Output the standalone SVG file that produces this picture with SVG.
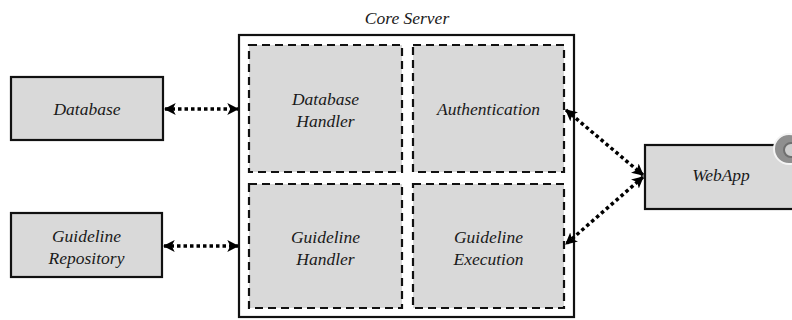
<svg xmlns="http://www.w3.org/2000/svg" width="792" height="320" viewBox="0 0 792 320">
  <style>
    .lbl { font-family: "Liberation Serif", "Times New Roman", serif; font-style: italic; font-size: 17.5px; fill: #1a1a1a; text-anchor: middle; }
    .ext { fill: #d9d9d9; stroke: #111; stroke-width: 2.2; }
    .mod { fill: #d9d9d9; stroke: #111; stroke-width: 2.2; stroke-dasharray: 8 5; }
    .frame { fill: #fff; stroke: #111; stroke-width: 2.2; }
    .link { fill: none; stroke: #000; stroke-width: 3.5; stroke-dasharray: 3.5 3; marker-start: url(#head); marker-end: url(#head); }
  </style>
  <defs>
    <marker id="head" viewBox="0 0 10 10" refX="9" refY="5" markerWidth="3.4" markerHeight="3.4" orient="auto-start-reverse" markerUnits="strokeWidth">
      <path d="M0,0 L10,5 L0,10 L2.5,5 Z" fill="#000"/>
    </marker>
  </defs>

  <rect width="792" height="320" fill="#fff"/>

  <!-- core server frame with its modules -->
  <g id="core-server">
    <text class="lbl" x="407" y="24">Core Server</text>
    <rect class="frame" x="239" y="35" width="335" height="282"/>
  </g>
  <g id="database-handler">
    <rect class="mod" x="249" y="45" width="153" height="127"/>
    <text class="lbl" x="325.5" y="105">Database</text>
    <text class="lbl" x="325.5" y="127">Handler</text>
  </g>
  <g id="authentication">
    <rect class="mod" x="413" y="45" width="151" height="127"/>
    <text class="lbl" x="488.5" y="115">Authentication</text>
  </g>
  <g id="guideline-handler">
    <rect class="mod" x="249" y="184" width="153" height="124"/>
    <text class="lbl" x="325.5" y="243">Guideline</text>
    <text class="lbl" x="325.5" y="265">Handler</text>
  </g>
  <g id="guideline-execution">
    <rect class="mod" x="413" y="184" width="151" height="124"/>
    <text class="lbl" x="488.5" y="243">Guideline</text>
    <text class="lbl" x="488.5" y="265">Execution</text>
  </g>

  <!-- external systems -->
  <g id="database">
    <rect class="ext" x="11" y="77" width="152" height="63"/>
    <text class="lbl" x="87" y="115">Database</text>
  </g>
  <g id="guideline-repository">
    <rect class="ext" x="11" y="213" width="151" height="64"/>
    <text class="lbl" x="86.5" y="242">Guideline</text>
    <text class="lbl" x="86.5" y="264">Repository</text>
  </g>
  <g id="webapp">
    <rect class="ext" x="645" y="145" width="160" height="64"/>
    <text class="lbl" x="721" y="181">WebApp</text>
    <!-- small round badge on the corner -->
    <circle cx="789" cy="149" r="15" fill="#8f8f8f" stroke="#f4f4f4" stroke-width="2"/>
    <circle cx="791" cy="150" r="7" fill="#cfcfcf" stroke="#6f6f6f" stroke-width="2"/>
  </g>

  <!-- connectors -->
  <g id="connectors">
    <line class="link" x1="165" y1="109" x2="238" y2="109"/>
    <line class="link" x1="164" y1="246" x2="238" y2="246"/>
    <line class="link" x1="566" y1="110" x2="643" y2="175"/>
    <line class="link" x1="643" y1="177" x2="566" y2="244"/>
  </g>
</svg>
